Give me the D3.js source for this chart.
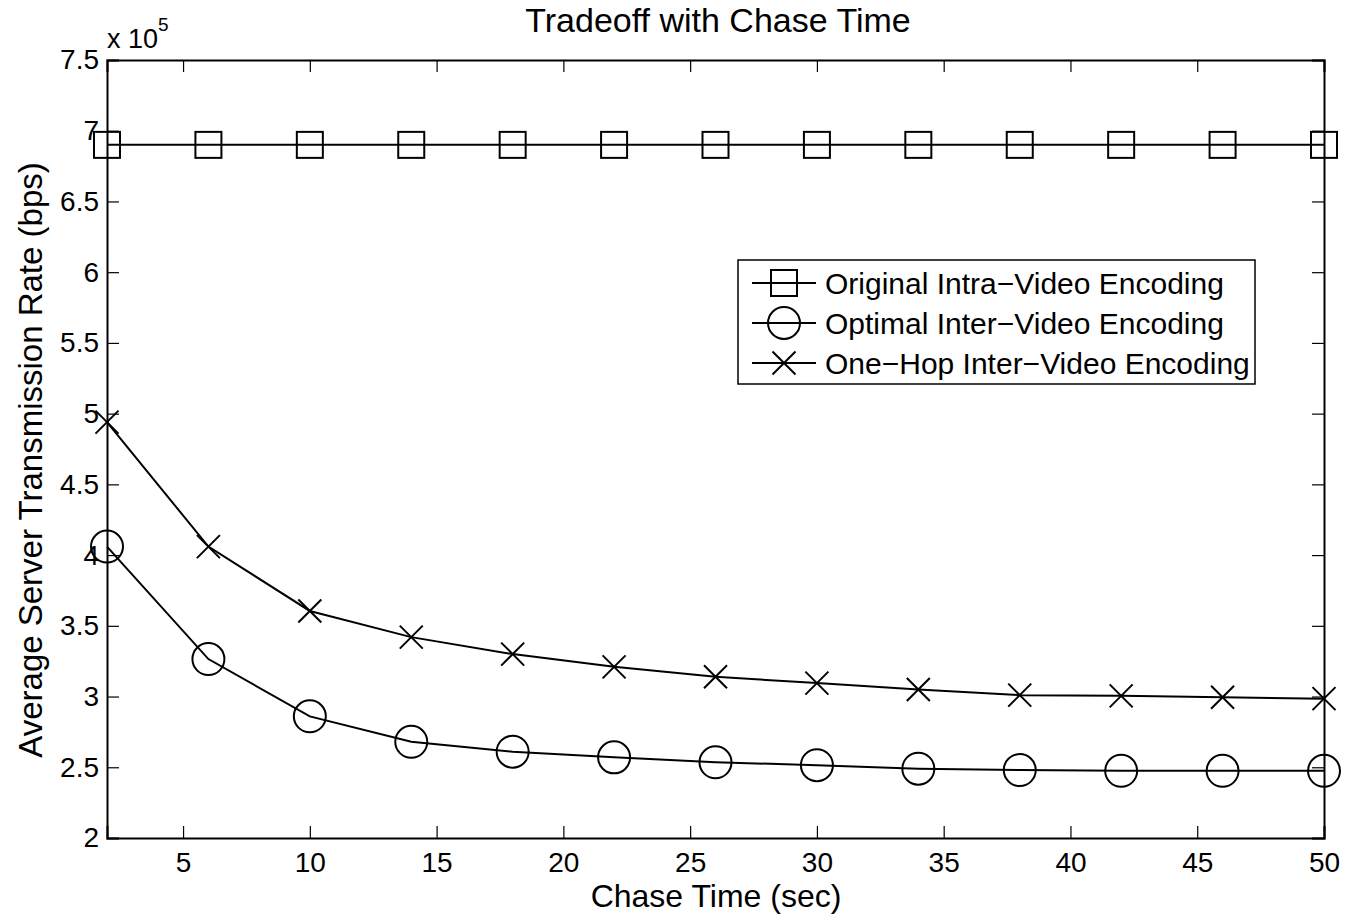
<!DOCTYPE html>
<html><head><meta charset="utf-8">
<script src="https://cdn.jsdelivr.net/npm/d3@7"></script>
<style>body{margin:0;background:#fff}svg text{font-family:"Liberation Sans",Arial,sans-serif;fill:#000}</style>
</head><body><svg id="c" width="1345" height="916"></svg>
<script>
const chaseTime=[2,6,10,14,18,22,26,30,34,38,42,46,50];
const intraVideo=[6.9,6.9,6.9,6.9,6.9,6.9,6.9,6.9,6.9,6.9,6.9,6.9,6.9];
const optimalInter=[4.06,3.265,2.86,2.68,2.61,2.57,2.535,2.515,2.49,2.48,2.475,2.475,2.475];
const oneHopInter=[4.94,4.06,3.605,3.42,3.30,3.21,3.14,3.095,3.05,3.01,3.005,2.995,2.985];
const xTicks=[5,10,15,20,25,30,35,40,45,50];
const yTicks=[2,2.5,3,3.5,4,4.5,5,5.5,6,6.5,7,7.5];
const seriesNames=["Original Intra\u2212Video Encoding","Optimal Inter\u2212Video Encoding","One\u2212Hop Inter\u2212Video Encoding"];

const svg=d3.select("#c");
const L=107,R=1324,T=60,B=838;
const x=d3.scaleLinear().domain([2,50]).range([L,R]);
const y=d3.scaleLinear().domain([2,7.5]).range([B,T]);
const fmt=d=>String(d);

const gx=svg.append("g").attr("transform",`translate(0,${B})`).call(d3.axisBottom(x).tickValues(xTicks).tickSize(-12).tickPadding(14).tickFormat(fmt));
const gxt=svg.append("g").attr("transform",`translate(0,${T})`).call(d3.axisTop(x).tickValues(xTicks).tickSize(-12).tickFormat(""));
const gy=svg.append("g").attr("transform",`translate(${L},0)`).call(d3.axisLeft(y).tickValues(yTicks).tickSize(-12).tickPadding(20).tickFormat(fmt));
const gyr=svg.append("g").attr("transform",`translate(${R},0)`).call(d3.axisRight(y).tickValues(yTicks).tickSize(-12).tickFormat(""));
[gx,gxt,gy,gyr].forEach(g=>{
  g.select(".domain").attr("stroke","#000").attr("stroke-width",2);
  g.selectAll(".tick line").attr("stroke","#000").attr("stroke-width",1.2);
  g.selectAll("text").attr("font-size",28).attr("font-family","Liberation Sans, Arial, sans-serif").attr("fill","#000");
});
gy.selectAll("text").attr("dx",12);
gx.selectAll("text").attr("dy","0.71em");

svg.append("text").attr("x",718).attr("y",32).attr("text-anchor","middle").attr("font-size",34).text("Tradeoff with Chase Time");
svg.append("text").attr("x",716).attr("y",907).attr("text-anchor","middle").attr("font-size",32).text("Chase Time (sec)");
svg.append("text").attr("transform","translate(42,460) rotate(-90)").attr("text-anchor","middle").attr("font-size",33).text("Average Server Transmission Rate (bps)");
const ex=svg.append("text").attr("x",107).attr("y",48).attr("font-size",27);
ex.append("tspan").text("x 10");
ex.append("tspan").attr("dy",-17).attr("font-size",19).text("5");

const line=d3.line().x((d,i)=>x(chaseTime[i])).y(d=>y(d));
const data=[intraVideo,optimalInter,oneHopInter];
const kinds=["square","circle","cross"];
function marker(g,kind,cx,cy){
  if(kind==="square") g.append("rect").attr("x",cx-13).attr("y",cy-13).attr("width",26).attr("height",26).attr("fill","none").attr("stroke","#000").attr("stroke-width",2);
  else if(kind==="circle") g.append("circle").attr("cx",cx).attr("cy",cy).attr("r",16).attr("fill","none").attr("stroke","#000").attr("stroke-width",2);
  else g.append("path").attr("d",`M${cx-11.5},${cy-11.5}L${cx+11.5},${cy+11.5}M${cx-11.5},${cy+11.5}L${cx+11.5},${cy-11.5}`).attr("stroke","#000").attr("stroke-width",2);
}
data.forEach((s,k)=>{
  svg.append("path").attr("d",line(s)).attr("fill","none").attr("stroke","#000").attr("stroke-width",2);
  const g=svg.append("g");
  s.forEach((v,i)=>marker(g,kinds[k],x(chaseTime[i]),y(v)));
});

const lg=svg.append("g");
lg.append("rect").attr("x",738).attr("y",260).attr("width",517).attr("height",124).attr("fill","#fff").attr("stroke","#000").attr("stroke-width",1.5);
seriesNames.forEach((n,k)=>{
  const cy=283+k*40;
  lg.append("line").attr("x1",752).attr("x2",816).attr("y1",cy).attr("y2",cy).attr("stroke","#000").attr("stroke-width",2);
  marker(lg,kinds[k],784,cy);
  lg.append("text").attr("x",825).attr("y",cy+10.5).attr("font-size",30).text(n);
});
</script></body></html>
